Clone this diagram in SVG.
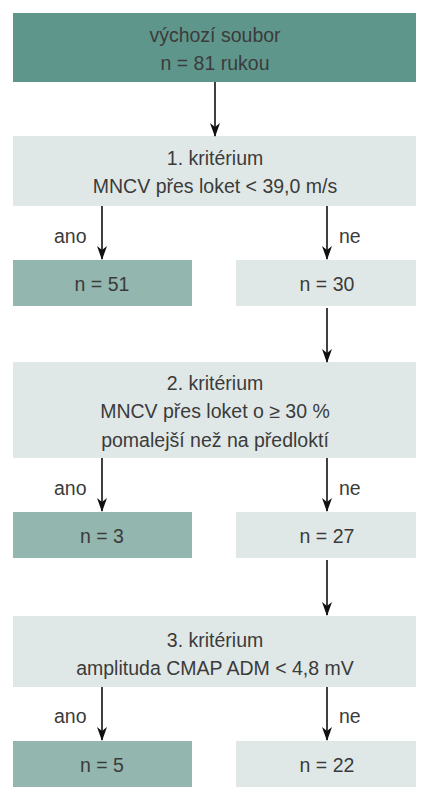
<svg xmlns="http://www.w3.org/2000/svg" width="435" height="800" viewBox="0 0 435 800">
<style>
  text { font-family: "Liberation Sans", Arial, sans-serif; font-size: 19.5px; fill: #3b3b3b; text-anchor: middle; }
  .lbl { text-anchor: start; }
  .dark { fill: #5f968b; }
  .mid { fill: #93b6ae; }
  .light { fill: #e0e8e7; }
  .conn line { stroke: #111; stroke-width: 1.6; }
</style>
<defs>
  <marker id="ah" viewBox="0 0 14 10" refX="13" refY="5" markerWidth="14" markerHeight="10" markerUnits="userSpaceOnUse" orient="auto">
    <path d="M0,0 L4,5 L0,10 L14,5 Z" fill="#111"/>
  </marker>
</defs>
<rect width="435" height="800" fill="#fff"/>

<g id="start">
  <rect class="dark" x="13" y="13" width="403" height="69"/>
  <text x="215" y="42">výchozí soubor</text>
  <text x="215" y="70">n = 81 rukou</text>
</g>
<g id="crit1">
  <rect class="light" x="13" y="136" width="403" height="70"/>
  <text x="215" y="165">1. kritérium</text>
  <text x="215" y="193">MNCV přes loket &lt; 39,0 m/s</text>
</g>
<g id="n51">
  <rect class="mid" x="13" y="260" width="179" height="46"/>
  <text x="102" y="291">n = 51</text>
</g>
<g id="n30">
  <rect class="light" x="236" y="260" width="180" height="46"/>
  <text x="327" y="291">n = 30</text>
</g>
<g id="crit2">
  <rect class="light" x="13" y="362" width="403" height="96"/>
  <text x="215" y="390">2. kritérium</text>
  <text x="215" y="418">MNCV přes loket o ≥ 30 %</text>
  <text x="215" y="447">pomalejší než na předloktí</text>
</g>
<g id="n3">
  <rect class="mid" x="13" y="512" width="179" height="46"/>
  <text x="102" y="543">n = 3</text>
</g>
<g id="n27">
  <rect class="light" x="236" y="512" width="180" height="46"/>
  <text x="327" y="543">n = 27</text>
</g>
<g id="crit3">
  <rect class="light" x="13" y="616" width="403" height="71"/>
  <text x="215" y="647">3. kritérium</text>
  <text x="215" y="675">amplituda CMAP ADM &lt; 4,8 mV</text>
</g>
<g id="n5">
  <rect class="mid" x="13" y="741" width="179" height="46"/>
  <text x="102" y="772">n = 5</text>
</g>
<g id="n22">
  <rect class="light" x="236" y="741" width="180" height="46"/>
  <text x="327" y="772">n = 22</text>
</g>

<g id="connectors" class="conn">
  <line x1="215" y1="82" x2="215" y2="136" marker-end="url(#ah)"/>
  <line x1="102" y1="206" x2="102" y2="259" marker-end="url(#ah)"/>
  <line x1="327" y1="206" x2="327" y2="259" marker-end="url(#ah)"/>
  <line x1="327" y1="308" x2="327" y2="362" marker-end="url(#ah)"/>
  <line x1="102" y1="458" x2="102" y2="511" marker-end="url(#ah)"/>
  <line x1="327" y1="458" x2="327" y2="511" marker-end="url(#ah)"/>
  <line x1="327" y1="560" x2="327" y2="615" marker-end="url(#ah)"/>
  <line x1="102" y1="687" x2="102" y2="740" marker-end="url(#ah)"/>
  <line x1="327" y1="687" x2="327" y2="740" marker-end="url(#ah)"/>
  <text class="lbl" x="54" y="243">ano</text>
  <text class="lbl" x="339" y="243">ne</text>
  <text class="lbl" x="54" y="495">ano</text>
  <text class="lbl" x="339" y="495">ne</text>
  <text class="lbl" x="54" y="723">ano</text>
  <text class="lbl" x="339" y="723">ne</text>
</g>
</svg>
